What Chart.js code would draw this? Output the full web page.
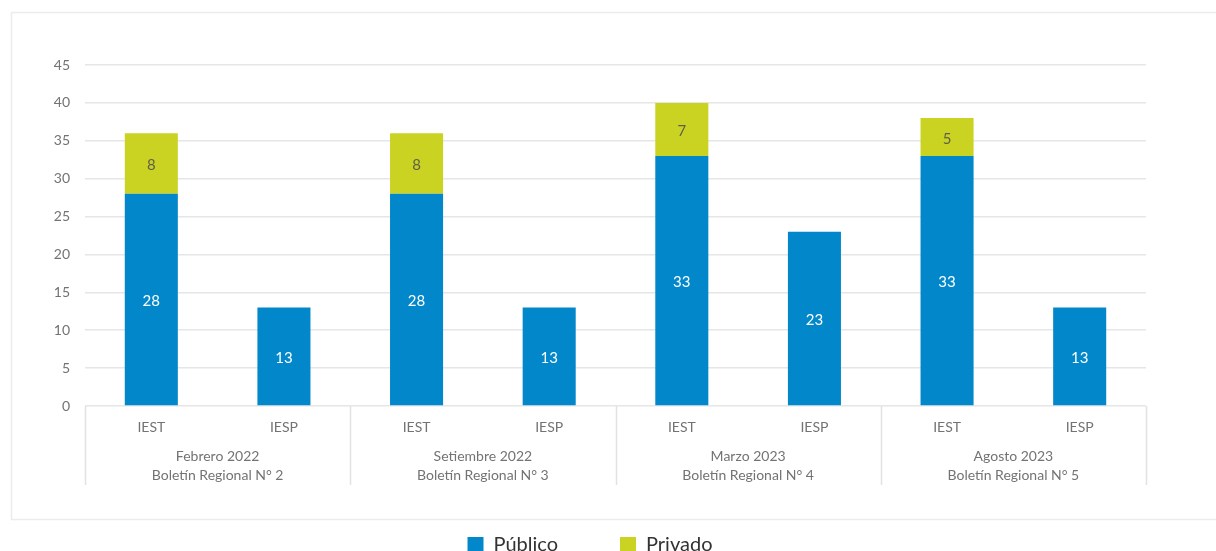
<!DOCTYPE html>
<html>
<head>
<meta charset="utf-8">
<script src="https://cdn.jsdelivr.net/npm/chart.js@4/dist/chart.umd.min.js"></script>
<style>
  html, body { margin: 0; padding: 0; background: #fff; overflow: hidden; }
  #wrap { position: relative; width: 1216px; height: 565px; }
</style>
</head>
<body>
<div id="wrap"><canvas id="chart"></canvas></div>
<script>
// data
var categories = ['IEST', 'IESP', 'IEST', 'IESP', 'IEST', 'IESP', 'IEST', 'IESP'];
var groups = [
  ['Febrero 2022', 'Boletín Regional N° 2'],
  ['Setiembre 2022', 'Boletín Regional N° 3'],
  ['Marzo 2023', 'Boletín Regional N° 4'],
  ['Agosto 2023', 'Boletín Regional N° 5']
];
var publico = [28, 13, 28, 13, 33, 23, 33, 13];
var privado = [8, null, 8, null, 7, null, 5, null];

var FONT = 'Lato, "Open Sans", sans-serif';
var GREY = '#737373';

// outer frame around the chart
var framePlugin = {
  id: 'frame',
  beforeDraw: function(chart) {
    var ctx = chart.ctx;
    ctx.save();
    ctx.strokeStyle = '#ececec';
    ctx.lineWidth = 1.5;
    ctx.strokeRect(11.5, 12.5, 1220, 507);
    ctx.restore();
  }
};

// values inside the bar segments
var valueLabels = {
  id: 'valueLabels',
  afterDatasetsDraw: function(chart) {
    var ctx = chart.ctx;
    ctx.save();
    ctx.font = '15px ' + FONT;
    ctx.textAlign = 'center';
    ctx.textBaseline = 'middle';
    chart.data.datasets.forEach(function(ds, di) {
      var meta = chart.getDatasetMeta(di);
      meta.data.forEach(function(bar, i) {
        var v = ds.data[i];
        if (v == null) return;
        var mid = (bar.y + bar.base) / 2 + 2;
        ctx.fillStyle = di === 0 ? '#ffffff' : '#5f5f4a';
        ctx.fillText(String(v), bar.x, mid);
      });
    });
    ctx.restore();
  }
};

// second level of the x axis: group names and separators
var groupAxis = {
  id: 'groupAxis',
  afterDraw: function(chart) {
    var ctx = chart.ctx, x = chart.scales.x, area = chart.chartArea;
    var top = area.bottom, bottom = area.bottom + 79;
    ctx.save();
    ctx.strokeStyle = '#e2e2e2';
    ctx.lineWidth = 1.5;
    for (var g = 0; g <= groups.length; g++) {
      var px;
      if (g === 0) px = area.left;
      else if (g === groups.length) px = area.right;
      else px = (x.getPixelForValue(g * 2 - 1) + x.getPixelForValue(g * 2)) / 2;
      ctx.beginPath();
      ctx.moveTo(Math.round(px) + 0.5, top);
      ctx.lineTo(Math.round(px) + 0.5, bottom);
      ctx.stroke();
    }
    ctx.fillStyle = GREY;
    ctx.font = '14px ' + FONT;
    ctx.textAlign = 'center';
    ctx.textBaseline = 'middle';
    groups.forEach(function(lines, g) {
      var cx = (x.getPixelForValue(g * 2) + x.getPixelForValue(g * 2 + 1)) / 2;
      lines.forEach(function(t, k) {
        ctx.fillText(t, cx, area.bottom + 50 + k * 19);
      });
    });
    ctx.restore();
  }
};

new Chart(document.getElementById('chart'), {
  type: 'bar',
  data: {
    labels: categories,
    datasets: [
      { label: 'Público', data: publico, backgroundColor: '#0288ca', borderWidth: 0 },
      { label: 'Privado', data: privado, backgroundColor: '#cbd322', borderWidth: 0 }
    ]
  },
  options: {
    responsive: true,
    maintainAspectRatio: false,
    animation: false,
    layout: { padding: { top: 65, left: 0, right: 36, bottom: 0 } },
    datasets: { bar: { categoryPercentage: 1, barPercentage: 0.4 } },
    scales: {
      x: {
        stacked: true,
        grid: { display: false },
        border: { display: false },
        ticks: { color: GREY, font: { family: FONT, size: 14 }, padding: 5, maxRotation: 0 },
        afterFit: function(s) { s.height = 67; }
      },
      y: {
        stacked: true,
        min: 0,
        max: 45,
        grid: { color: '#e6e6e6', lineWidth: 1.5, drawTicks: false },
        border: { display: false },
        ticks: { stepSize: 5, color: GREY, font: { family: FONT, size: 14 }, padding: 15 },
        afterFit: function(s) { s.width = 85; }
      },
      y2: {
        position: 'right',
        display: true,
        grid: { display: false },
        border: { display: false },
        ticks: { display: false },
        afterFit: function(s) { s.width = 34; }
      }
    },
    plugins: {
      legend: {
        position: 'bottom',
        labels: {
          boxWidth: 16,
          boxHeight: 16,
          padding: 62,
          color: '#333',
          font: { family: FONT, size: 20 }
        }
      },
      tooltip: { enabled: false }
    }
  },
  plugins: [framePlugin, valueLabels, groupAxis]
});
</script>
</body>
</html>
